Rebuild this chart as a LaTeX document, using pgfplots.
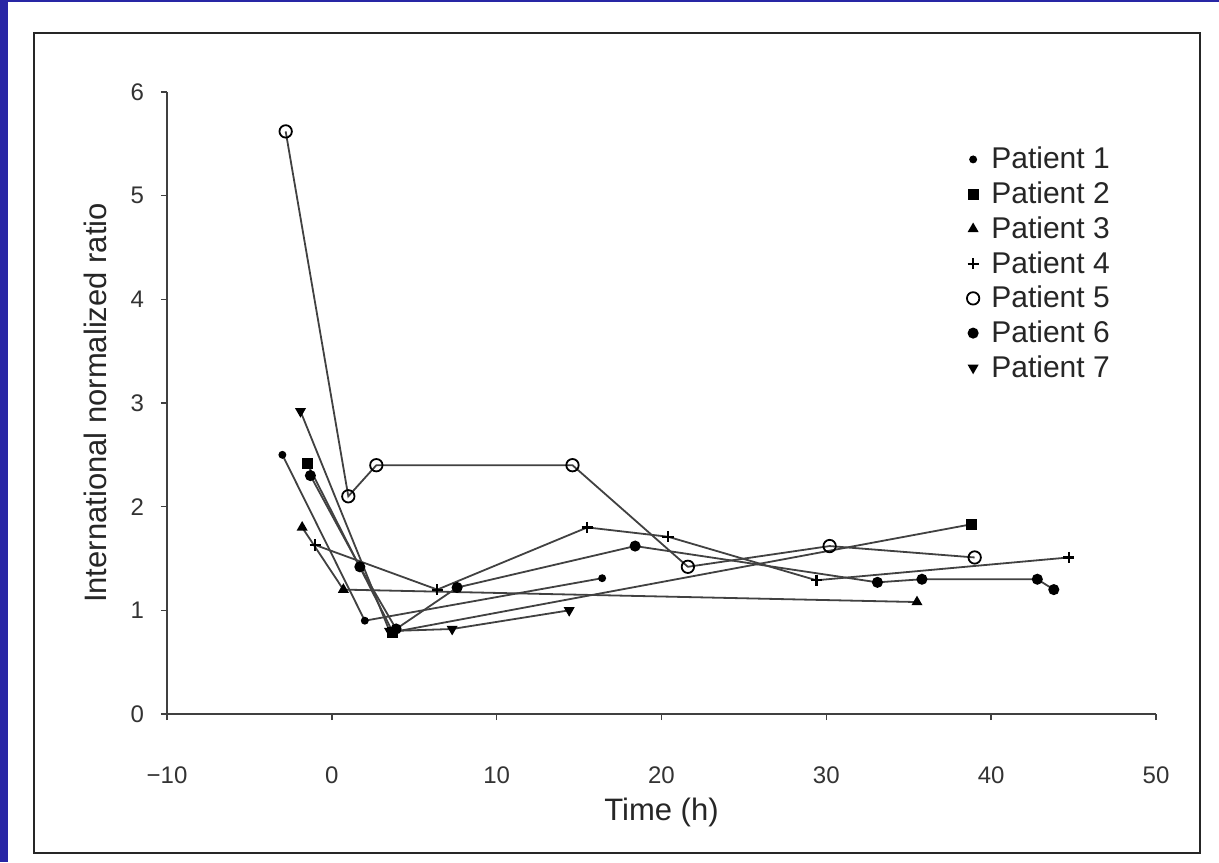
\documentclass[border=0pt]{standalone}
\usepackage{fontspec}
\setmainfont{Liberation Sans}
\usepackage{pgfplots}
\pgfplotsset{compat=1.18}
\definecolor{slideblue}{RGB}{40,38,165}
\definecolor{linegray}{RGB}{65,65,65}

\begin{document}
\begin{tikzpicture}
% page: 1219 x 862 px at 0.5pt per px, origin at axis corner (px 167,714)
\useasboundingbox (-83.5pt,-74pt) rectangle (526pt,357pt);
\fill[slideblue] (-83.5pt,-74pt) rectangle (526pt,357pt);
\fill[white] (-79.5pt,-74pt) rectangle (526pt,356pt);
\draw[black!85,line width=1.3pt] (-66.5pt,-69.5pt) rectangle (516.5pt,340.5pt);
\begin{axis}[
    at={(0,0)}, anchor=south west,
    scale only axis,
    width=494.5pt, height=311pt,
    xmin=-10, xmax=50, ymin=0, ymax=6,
    axis lines*=left,
    axis line style={black!75, line width=0.8pt},
    tick align=outside,
    major tick length=3pt,
    tick style={black!75, line width=0.8pt},
    xtick={-10,0,10,20,30,40,50},
    xticklabels={−10,0,10,20,30,40,50},
    ytick={0,1,2,3,4,5,6},
    yticklabels={0,1,2,3,4,5,6},
    ticklabel style={font=\fontsize{12}{14}\selectfont, text=black!80},
    xticklabel style={yshift=-20pt},
    yticklabel style={xshift=-5pt},
    xlabel={Time (h)},
    ylabel={International normalized ratio},
    label style={font=\fontsize{15.5}{17}\selectfont, text=black!85},
    xlabel style={at={(axis description cs:0.5,0)}, anchor=center, yshift=-49pt},
    ylabel style={at={(axis description cs:0,0.5)}, anchor=center, yshift=36pt},
    every axis plot/.append style={linegray, line width=0.9pt},
    legend style={draw=none, fill=none, at={(0.80,0.925)}, anchor=north west,
        font=\fontsize{15}{17}\selectfont, text=black!85, row sep=1pt,
        legend cell align=left},
    legend image code/.code={\path[draw=none] (0cm,0cm) -- (0.40cm,0cm); \path[#1, draw=none] plot coordinates {(0.15cm,0cm)};},
]
% Patient 1
\addplot[mark=*, mark size=1.5pt, mark options={black}] coordinates {(-3.0,2.50) (2.0,0.90) (16.4,1.31)};
% Patient 2
\addplot[mark=square*, mark size=2.3pt, mark options={black}] coordinates {(-1.5,2.42) (3.7,0.79) (38.8,1.83)};
% Patient 3
\addplot[mark=triangle*, mark size=2.3pt, mark options={black}] coordinates {(-1.8,1.80) (0.7,1.20) (35.5,1.08)};
% Patient 4
\addplot[mark=+, mark size=2.8pt, mark options={black, line width=1.1pt}] coordinates {(-1.0,1.63) (6.4,1.20) (15.5,1.80) (20.4,1.71) (29.4,1.29) (44.7,1.51)};
% Patient 5
\addplot[mark=o, mark size=3.1pt, mark options={draw=black, fill=white, line width=0.9pt}] coordinates {(-2.8,5.62) (1.0,2.10) (2.7,2.40) (14.6,2.40) (21.6,1.42) (30.2,1.62) (39.0,1.51)};
% Patient 6
\addplot[mark=*, mark size=2.3pt, mark options={black}] coordinates {(-1.3,2.30) (1.7,1.42) (3.9,0.82) (7.6,1.22) (18.4,1.62) (33.1,1.27) (35.8,1.30) (42.8,1.30) (43.8,1.20)};
% Patient 7
\addplot[mark=triangle*, mark size=2.3pt, mark options={black, rotate=180}] coordinates {(-1.9,2.92) (3.5,0.80) (7.3,0.82) (14.4,1.00)};
\legend{Patient 1, Patient 2, Patient 3, Patient 4, Patient 5, Patient 6, Patient 7}
\end{axis}
\end{tikzpicture}
\end{document}
